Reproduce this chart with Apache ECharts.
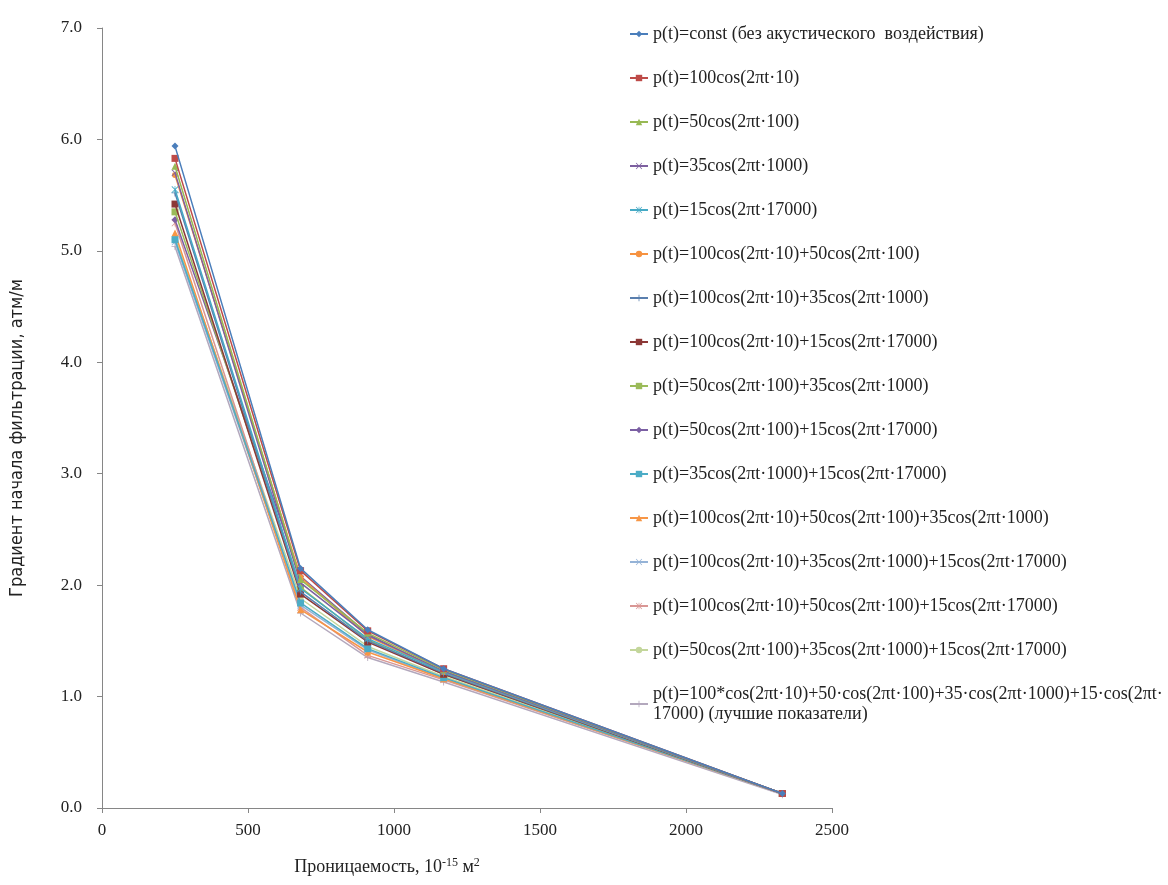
<!DOCTYPE html>
<html>
<head>
<meta charset="utf-8">
<script src="https://cdn.jsdelivr.net/npm/echarts@6/dist/echarts.min.js"></script>
<style>
html,body{margin:0;padding:0;background:#fff;}
#chart{width:1168px;height:885px;}
</style>
</head>
<body>
<div id="chart"></div>
<script>
// проницаемость, 10^-15 м2
const permeability = [250, 680, 910, 1170, 2330];

const seriesNames = [
    'p(t)=const (без акустического  воздействия)',
    'p(t)=100cos(2πt·10)',
    'p(t)=50cos(2πt·100)',
    'p(t)=35cos(2πt·1000)',
    'p(t)=15cos(2πt·17000)',
    'p(t)=100cos(2πt·10)+50cos(2πt·100)',
    'p(t)=100cos(2πt·10)+35cos(2πt·1000)',
    'p(t)=100cos(2πt·10)+15cos(2πt·17000)',
    'p(t)=50cos(2πt·100)+35cos(2πt·1000)',
    'p(t)=50cos(2πt·100)+15cos(2πt·17000)',
    'p(t)=35cos(2πt·1000)+15cos(2πt·17000)',
    'p(t)=100cos(2πt·10)+50cos(2πt·100)+35cos(2πt·1000)',
    'p(t)=100cos(2πt·10)+35cos(2πt·1000)+15cos(2πt·17000)',
    'p(t)=100cos(2πt·10)+50cos(2πt·100)+15cos(2πt·17000)',
    'p(t)=50cos(2πt·100)+35cos(2πt·1000)+15cos(2πt·17000)',
    'p(t)=100*cos(2πt·10)+50·cos(2πt·100)+35·cos(2πt·1000)+15·cos(2πt·17000) (лучшие показатели)'
];

// градиент начала фильтрации, атм/м
const gradConst    = [5.94, 2.15, 1.60, 1.25, 0.13];
const grad100      = [5.83, 2.13, 1.59, 1.25, 0.13];
const grad50       = [5.76, 2.05, 1.57, 1.24, 0.13];
const grad35       = [5.70, 2.02, 1.55, 1.23, 0.13];
const grad15       = [5.55, 1.97, 1.52, 1.22, 0.13];
const grad100_50   = [5.68, 2.07, 1.54, 1.22, 0.13];
const grad100_35   = [5.52, 1.94, 1.50, 1.21, 0.13];
const grad100_15   = [5.42, 1.92, 1.49, 1.20, 0.13];
const grad50_35    = [5.35, 1.98, 1.51, 1.20, 0.13];
const grad50_15    = [5.28, 2.08, 1.56, 1.21, 0.13];
const grad35_15    = [5.10, 1.84, 1.43, 1.17, 0.13];
const grad100_50_35 = [5.16, 1.78, 1.40, 1.16, 0.13];
const grad100_35_15 = [5.08, 1.82, 1.42, 1.16, 0.13];
const grad100_50_15 = [5.25, 1.80, 1.37, 1.15, 0.13];
const grad50_35_15  = [5.12, 1.88, 1.45, 1.18, 0.13];
const gradAll       = [5.04, 1.75, 1.35, 1.13, 0.12];

const allValues = [gradConst, grad100, grad50, grad35, grad15, grad100_50, grad100_35, grad100_15,
    grad50_35, grad50_15, grad35_15, grad100_50_35, grad100_35_15, grad100_50_15, grad50_35_15, gradAll];

const colors = ['#4a7ebb','#be4b48','#98b954','#7d60a0','#46aac5','#f69240','#5a7fae','#8c3836',
    '#9bbb59','#7b5fa3','#4bacc6','#f79646','#95b3d7','#d99694','#c3d69b','#b3a8bd'];

// маркеры как в excel
const mDiamond = 'diamond';
const mSquare = 'rect';
const mTriangle = 'triangle';
const mX = 'path://M0.8,0 L10,9.2 L9.2,10 L0,0.8Z M9.2,0 L10,0.8 L0.8,10 L0,9.2Z';
const mStar = 'path://M4.5,0H5.5V10H4.5Z M0.8,0 L10,9.2 L9.2,10 L0,0.8Z M9.2,0 L10,0.8 L0.8,10 L0,9.2Z';
const mCircle = 'circle';
const mPlus = 'path://M4.4,0H5.6V4.4H10V5.6H5.6V10H4.4V5.6H0V4.4H4.4Z';
const mDash = 'path://M0,4.2H10V5.8H0Z';
const markers = [mDiamond, mSquare, mTriangle, mX, mStar, mCircle, mPlus, mDash,
    mDash, mDiamond, mSquare, mTriangle, mX, mStar, mCircle, mPlus];

const chart = echarts.init(document.getElementById('chart'));

const series = [];
for (let i = 0; i < allValues.length; i++) {
    series.push({
        name: seriesNames[i],
        type: 'line',
        symbol: markers[i],
        symbolSize: markers[i] == 'circle' ? 6 : 7,
        showAllSymbol: true,
        lineStyle: {width: 1.5, color: colors[i]},
        itemStyle: {color: colors[i]},
        emphasis: {disabled: true},
        data: permeability.map((x, j) => [x, allValues[i][j]]),
        z: 20 - i
    });
}

const serif = "'Liberation Serif','Times New Roman',serif";

const option = {
    animation: false,
    color: colors,
    grid: {left: 98, right: 336, top: 28, bottom: 77},
    legend: {
        orient: 'vertical',
        left: 624,
        top: 19,
        itemWidth: 18,
        itemHeight: 8,
        itemGap: 24,
        textStyle: {fontFamily: serif, fontSize: 18, color: '#222', lineHeight: 20},
        formatter(name) {
            if (name.indexOf('лучшие') >= 0) {
                return 'p(t)=100*cos(2πt·10)+50·cos(2πt·100)+35·cos(2πt·1000)+15·cos(2πt·\n17000) (лучшие показатели)';
            }
            return name;
        },
        data: seriesNames
    },
    xAxis: {
        type: 'value',
        min: 0,
        max: 2500,
        interval: 500,
        name: 'Проницаемость, 10{sup|-15} м{sup|2}',
        nameLocation: 'middle',
        nameGap: 49,
        nameTextStyle: {
            fontFamily: serif, fontSize: 18, color: '#222',
            padding: [0, 160, 0, 0],
            rich: {sup: {fontFamily: serif, fontSize: 12, color: '#222', verticalAlign: 'top', padding: [0, 0, 9, 0]}}
        },
        axisLine: {lineStyle: {color: '#868686', width: 1}},
        axisTick: {show: true, inside: false, length: 5, lineStyle: {color: '#868686'}},
        axisLabel: {fontFamily: serif, fontSize: 17, color: '#222', margin: 14,
            formatter: v => String(v)},
        splitLine: {show: false}
    },
    yAxis: {
        type: 'value',
        min: 0,
        max: 7,
        interval: 1,
        name: 'Градиент начала фильтрации, атм/м',
        nameLocation: 'middle',
        nameGap: 76,
        nameTextStyle: {fontFamily: "'Liberation Sans Narrow','DejaVu Sans Condensed',sans-serif", fontSize: 18, color: '#222',
            padding: [0, 40, 0, 0]},
        axisLine: {show: true, lineStyle: {color: '#868686', width: 1}},
        axisTick: {show: true, inside: false, length: 5, lineStyle: {color: '#868686'}},
        axisLabel: {fontFamily: serif, fontSize: 17, color: '#222', margin: 20,
            formatter: v => v.toFixed(1)},
        splitLine: {show: false}
    },
    series: series
};

chart.setOption(option);
</script>
</body>
</html>
